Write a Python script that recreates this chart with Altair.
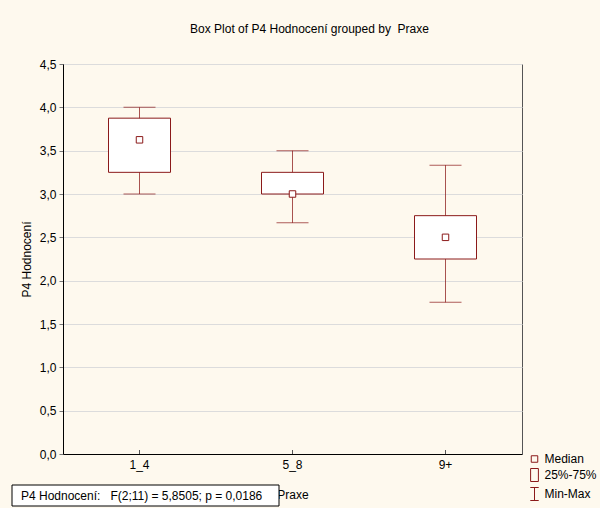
import altair as alt
import pandas as pd

# Summary statistics of P4 Hodnocení per Praxe group
groups = ["1_4", "5_8", "9+"]
medians = [3.625, 3.0, 2.5]
q1 = [3.25, 3.0, 2.25]
q3 = [3.875, 3.25, 2.75]
mins = [3.0, 2.667, 1.75]
maxs = [4.0, 3.5, 3.333]

y_ticks = [0.0, 0.5, 1.0, 1.5, 2.0, 2.5, 3.0, 3.5, 4.0, 4.5]

# Legend entries and their symbols (paths in the unit square)
legend_items = ["Median", "25%-75%", "Min-Max"]
legend_shapes = [
    "M-0.5,-0.5H0.5V0.5H-0.5Z",
    "M-0.6,-1H0.6V1H-0.6Z",
    "M-0.65,-1H0.65M0,-1V1M-0.65,1H0.65",
]

# One-way ANOVA result
anova_label = "P4 Hodnocení:"
anova_df = (2, 11)
anova_f = 5.8505
anova_p = 0.0186

RED = "#8B1A1A"
FONT = "Liberation Sans"
NB = "\u00a0"

W, H = 459, 390

df = pd.DataFrame(
    {"group": groups, "median": medians, "q1": q1, "q3": q3, "lo": mins, "hi": maxs}
)

x = alt.X(
    "group:N",
    scale=alt.Scale(domain=groups, paddingInner=0, paddingOuter=0),
    axis=alt.Axis(
        title="Praxe",
        labelAngle=0,
        ticks=False,
        grid=False,
        labelPadding=5,
        titlePadding=19,
        domainColor="black",
    ),
)
y_axis = alt.Axis(
    title="P4 Hodnocení",
    values=y_ticks,
    labelExpr="replace(format(datum.value, '.1f'), '.', ',')",
    tickSize=4,
    tickColor="#777777",
    labelPadding=3,
    titlePadding=6,
    domainColor="black",
)
y_scale = alt.Scale(domain=[0, 4.5], nice=False, zero=False)

base = alt.Chart(df)

whisker = base.mark_rule(color=RED, strokeWidth=1, opacity=0.75).encode(
    x=x, y=alt.Y("lo:Q", scale=y_scale, axis=y_axis), y2="hi:Q"
)
box = base.mark_bar(fill="white", stroke=RED, strokeWidth=1, size=62).encode(
    x=x, y=alt.Y("q1:Q", scale=y_scale), y2="q3:Q"
)
cap_lo = base.mark_tick(color=RED, size=32, thickness=1).encode(
    x=x, y=alt.Y("lo:Q", scale=y_scale)
)
cap_hi = base.mark_tick(color=RED, size=32, thickness=1).encode(
    x=x, y=alt.Y("hi:Q", scale=y_scale)
)
median = base.mark_square(
    size=42, filled=True, fill="white", stroke=RED, strokeWidth=1, opacity=1
).encode(x=x, y=alt.Y("median:Q", scale=y_scale))

# small inward ticks on the category axis
xticks = base.mark_rule(color="#555555").encode(
    x=x, y=alt.value(H - 4), y2=alt.value(H)
)

legend_layer = (
    alt.Chart(pd.DataFrame({"item": legend_items}))
    .mark_point(opacity=0, color=RED)
    .encode(
        shape=alt.Shape(
            "item:N",
            scale=alt.Scale(domain=legend_items, range=legend_shapes),
            legend=alt.Legend(
                title=None,
                orient="none",
                legendX=464.5,
                legendY=388,
                symbolSize=169,
                symbolStrokeColor=RED,
                symbolStrokeWidth=1,
                symbolOpacity=1,
                symbolFillColor="transparent",
                labelFont=FONT,
                labelFontSize=12,
                labelColor="black",
                labelOffset=3,
                rowPadding=1,
                padding=0,
            ),
        )
    )
)

anova_text = (
    f"{anova_label}{NB*3}F({anova_df[0]};{anova_df[1]}) = "
    + f"{anova_f:.4f}".replace(".", ",")
    + "; p = "
    + f"{anova_p:.4f}".replace(".", ",")
)
stat_df = pd.DataFrame({"t": [anova_text]})
stat_box = alt.Chart(stat_df).mark_rect(
    fill="white", stroke="black", strokeWidth=1
).encode(x=alt.value(-51), x2=alt.value(216), y=alt.value(421), y2=alt.value(442))
stat_text = alt.Chart(stat_df).mark_text(
    align="left", baseline="middle", font=FONT, fontSize=12, color="black"
).encode(x=alt.value(-42), y=alt.value(432), text="t:N")

chart = (
    alt.layer(whisker, box, cap_lo, cap_hi, median, xticks, legend_layer, stat_box, stat_text)
    .properties(
        width=W,
        height=H,
        title=alt.TitleParams(
            text=f"Box Plot of P4 Hodnocení grouped by{NB*2}Praxe",
            font=FONT,
            fontSize=12,
            fontWeight="normal",
            color="black",
            anchor="middle",
            offset=22,
            dx=17,
        ),
        autosize=alt.AutoSizeParams(type="none"),
        padding={"left": 63, "top": 64, "right": 600 - 63 - W, "bottom": 508 - 64 - H},
        background="#FEF9EE",
    )
    .configure_view(stroke="#555555", strokeWidth=1, fill="white")
    .configure_axis(
        gridColor="#DCDCDC",
        gridWidth=1,
        labelFont=FONT,
        labelFontSize=12,
        labelColor="black",
        titleFont=FONT,
        titleFontSize=12,
        titleFontWeight="normal",
        titleColor="black",
    )
)

chart.save("out.html", embed_options={"renderer": "svg", "actions": False})
